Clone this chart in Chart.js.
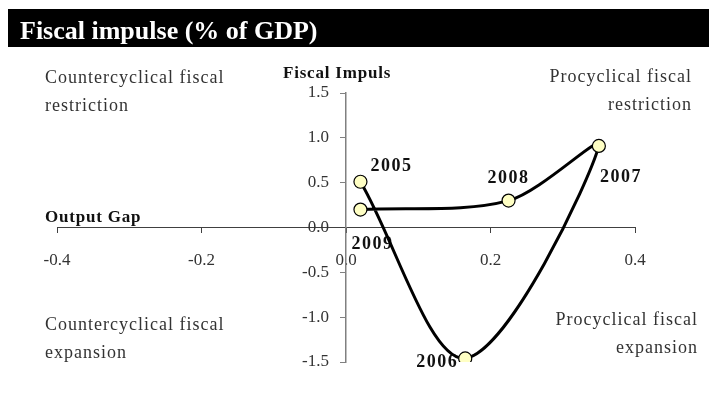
<!DOCTYPE html>
<html>
<head>
<meta charset="utf-8">
<title>Fiscal impulse (% of GDP)</title>
<script src="https://cdn.jsdelivr.net/npm/chart.js@4.4.1/dist/chart.umd.min.js"></script>
<style>
  html, body { margin: 0; padding: 0; background: #fff; }
  #wrap { position: relative; width: 709px; height: 409px; }
</style>
</head>
<body>
<div id="wrap"><canvas id="chart" width="709" height="409"></canvas></div>
<script>
// values
const years = ['2005', '2006', '2007', '2008', '2009'];
const outputGap = [0.02, 0.165, 0.35, 0.225, 0.02];
const fiscalImpulse = [0.51, -1.46, 0.91, 0.30, 0.20];
const xTickValues = [-0.4, -0.2, 0.0, 0.2, 0.4];
const yTickValues = [-1.5, -1.0, -0.5, 0.0, 0.5, 1.0, 1.5];

const TITLE = 'Fiscal impulse (% of GDP)';
const Y_TITLE = 'Fiscal Impuls';
const X_TITLE = 'Output Gap';

// layout / styling (not data)
const SERIF = '"Liberation Serif", "DejaVu Serif", serif';
const labelOffsets = [[10, -11], [-49, 9], [1, 36], [-21, -18], [-9, 39]];
const notes = [
  { lines: ['Countercyclical fiscal', 'restriction'], x: 45, y: 83, align: 'left' },
  { lines: ['Procyclical fiscal', 'restriction'], x: 692, y: 82, align: 'right' },
  { lines: ['Countercyclical fiscal', 'expansion'], x: 45, y: 330, align: 'left' },
  { lines: ['Procyclical fiscal', 'expansion'], x: 698, y: 325, align: 'right' },
];

// title bar, quadrant notes and axis titles
const decorations = {
  id: 'decorations',
  beforeDraw(chart) {
    const ctx = chart.ctx;
    ctx.save();
    ctx.fillStyle = '#000';
    ctx.fillRect(8, 9, 701, 38);
    ctx.fillStyle = '#fff';
    ctx.font = 'bold 26px ' + SERIF;
    ctx.textBaseline = 'alphabetic';
    ctx.fillText(TITLE, 20, 39);

    ctx.fillStyle = '#333';
    ctx.font = '18px ' + SERIF;
    ctx.letterSpacing = '1px';
    notes.forEach((n) => {
      ctx.textAlign = n.align;
      n.lines.forEach((line, i) => ctx.fillText(line, n.x, n.y + i * 28));
    });

    ctx.fillStyle = '#111';
    ctx.font = 'bold 17px ' + SERIF;
    ctx.letterSpacing = '0.8px';
    ctx.textAlign = 'left';
    ctx.fillText(Y_TITLE, 283, 78);
    ctx.fillText(X_TITLE, 45, 222);
    ctx.restore();
  }
};

// year labels sit under the line and markers
const yearLabels = {
  id: 'yearLabels',
  beforeDatasetsDraw(chart) {
    const ctx = chart.ctx;
    const pts = chart.getDatasetMeta(0).data;
    ctx.save();
    ctx.font = 'bold 18px ' + SERIF;
    ctx.letterSpacing = '1.5px';
    ctx.fillStyle = '#111';
    ctx.textBaseline = 'alphabetic';
    pts.forEach((p, i) => {
      const [dx, dy] = labelOffsets[i];
      ctx.fillText(years[i], p.x + dx, p.y + dy);
    });
    ctx.restore();
  }
};

Chart.defaults.font.family = SERIF;

new Chart(document.getElementById('chart'), {
  type: 'scatter',
  data: {
    datasets: [{
      label: 'Fiscal impulse',
      data: outputGap.map((x, i) => ({ x, y: fiscalImpulse[i] })),
      showLine: true,
      tension: 0.33,
      borderColor: '#000',
      borderWidth: 3,
      pointRadius: 6.5,
      pointBackgroundColor: '#FFFFC4',
      pointBorderColor: '#000',
      pointBorderWidth: 1.2,
    }],
  },
  options: {
    responsive: false,
    animation: false,
    events: [],
    layout: { padding: { left: 57, right: 74, top: 93, bottom: 47 } },
    plugins: { legend: { display: false }, tooltip: { enabled: false } },
    scales: {
      x: {
        type: 'linear',
        position: { y: 0 },
        min: -0.4,
        max: 0.4,
        afterBuildTicks: (s) => { s.ticks = xTickValues.map((v) => ({ value: v })); },
        border: { color: '#404040', width: 1 },
        grid: { drawOnChartArea: false, tickLength: 5, color: '#404040' },
        ticks: {
          padding: 18,
          color: '#333',
          font: { size: 17 },
          maxRotation: 0,
          callback: (v) => Number(v).toFixed(1),
        },
      },
      y: {
        type: 'linear',
        position: { x: 0 },
        min: -1.5,
        max: 1.5,
        afterBuildTicks: (s) => { s.ticks = yTickValues.map((v) => ({ value: v })); },
        border: { color: '#808080', width: 1.5 },
        grid: { drawOnChartArea: false, tickLength: 5, color: '#808080' },
        ticks: {
          color: '#333',
          font: { size: 17 },
          // em space keeps the label clear of the axis line
          callback: (v) => Number(v).toFixed(1) + '\u2003',
        },
      },
    },
  },
  plugins: [decorations, yearLabels],
});
</script>
</body>
</html>
